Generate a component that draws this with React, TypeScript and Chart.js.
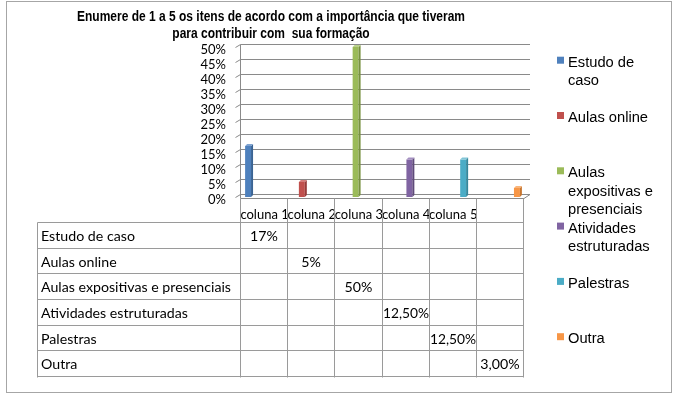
import React, { useEffect, useRef } from 'react';
import { Chart, registerables } from 'chart.js';

Chart.register(...registerables);

const W = 677;
const H = 398;

const titleLines = [
  'Enumere de 1 a 5 os itens de acordo com a importância que tiveram',
  'para contribuir com  sua formação',
];
const categories = ['coluna 1', 'coluna 2', 'coluna 3', 'coluna 4', 'coluna 5', ''];
const seriesNames = [
  'Estudo de caso',
  'Aulas online',
  'Aulas expositivas e presenciais',
  'Atividades estruturadas',
  'Palestras',
  'Outra',
];
const seriesValues = [0.17, 0.05, 0.5, 0.125, 0.125, 0.03];
const valueLabels = ['17%', '5%', '50%', '12,50%', '12,50%', '3,00%'];
const seriesColors = ['#4F81BD', '#C0504D', '#9BBB59', '#8064A2', '#4BACC6', '#F79646'];
const sideColors = ['#3A6494', '#963C3A', '#77913F', '#5F4A7A', '#35879C', '#C8762F'];
const topColors = ['#7FA3D1', '#D47C7A', '#B9D18A', '#A48FC1', '#82C6D8', '#F9B57A'];
const yMin = 0;
const yMax = 0.5;
const yStep = 0.05;

const FONT_TABLE = 'Lato, "Open Sans", sans-serif';
const FONT_ARIAL = '"Liberation Sans", Arial, sans-serif';

function line(ctx: CanvasRenderingContext2D, x1: number, y1: number, x2: number, y2: number) {
  ctx.beginPath();
  ctx.moveTo(x1, y1);
  ctx.lineTo(x2, y2);
  ctx.stroke();
}

function wrap(ctx: CanvasRenderingContext2D, text: string, maxW: number): string[] {
  const words = text.split(' ');
  const out: string[] = [];
  let cur = '';
  for (const w of words) {
    const test = cur ? cur + ' ' + w : w;
    if (cur && ctx.measureText(test).width > maxW) {
      out.push(cur);
      cur = w;
    } else {
      cur = test;
    }
  }
  if (cur) out.push(cur);
  return out;
}

const decorPlugin = {
  id: 'decor',
  beforeDraw(chart: any) {
    const ctx: CanvasRenderingContext2D = chart.ctx;
    ctx.save();
    ctx.fillStyle = '#ffffff';
    ctx.fillRect(0, 0, W, H);
    ctx.strokeStyle = '#a6a6a6';
    ctx.lineWidth = 1;
    ctx.strokeRect(6.5, 1.5, 665, 391);
    ctx.restore();
  },
  beforeDatasetsDraw(chart: any) {
    const ctx: CanvasRenderingContext2D = chart.ctx;
    const { chartArea } = chart;
    const y = chart.scales.y;
    const left = Math.round(chartArea.left) - 0.5;
    const right = chartArea.right + 6;
    ctx.save();
    ctx.strokeStyle = '#8a8a8a';
    ctx.lineWidth = 1;
    y.ticks.forEach((t: any) => {
      const py = Math.round(y.getPixelForValue(t.value) - 3) + 0.5;
      line(ctx, left, py, right, py);
      line(ctx, left - 5, py + 3, left, py);
    });
    const top = Math.round(y.getPixelForValue(yMax) - 3) + 0.5;
    const fy = Math.round(y.getPixelForValue(yMin) + 1) + 0.5;
    line(ctx, left, top, left, fy);
    line(ctx, left, fy, chartArea.right, fy);
    line(ctx, chartArea.right, fy, right, fy - 4);
    ctx.restore();
  },
  afterDatasetsDraw(chart: any) {
    const ctx: CanvasRenderingContext2D = chart.ctx;
    const d = 2;
    ctx.save();
    chart.data.datasets.forEach((ds: any, i: number) => {
      const meta = chart.getDatasetMeta(i);
      meta.data.forEach((el: any, j: number) => {
        if (ds.data[j] == null) return;
        const { x, y, base, width } = el.getProps(['x', 'y', 'base', 'width'], true);
        const l = x - width / 2;
        const r = x + width / 2;
        ctx.fillStyle = sideColors[i];
        ctx.beginPath();
        ctx.moveTo(r, y);
        ctx.lineTo(r + d, y - d);
        ctx.lineTo(r + d, base - d);
        ctx.lineTo(r, base);
        ctx.closePath();
        ctx.fill();
        ctx.fillStyle = topColors[i];
        ctx.beginPath();
        ctx.moveTo(l, y);
        ctx.lineTo(l + d, y - d);
        ctx.lineTo(r + d, y - d);
        ctx.lineTo(r, y);
        ctx.closePath();
        ctx.fill();
      });
    });
    ctx.restore();
  },
  afterDraw(chart: any) {
    const ctx: CanvasRenderingContext2D = chart.ctx;
    const { chartArea } = chart;
    const y = chart.scales.y;
    const n = categories.length;
    const cw = (chartArea.right - chartArea.left) / n;
    const xs: number[] = [];
    for (let k = 0; k <= n; k++) xs.push(Math.round(chartArea.left + k * cw) - 0.5);
    const fy = Math.round(y.getPixelForValue(yMin) + 1) + 0.5;
    const tableTop = fy + 24;
    const rowH = 25.67;
    const tableLeft = 37.5;
    const nRows = seriesNames.length;
    const tableBottom = Math.round(tableTop + nRows * rowH) + 0.5;

    ctx.save();
    // table grid
    ctx.strokeStyle = '#9a9a9a';
    ctx.lineWidth = 1;
    for (let r = 0; r <= nRows; r++) {
      const py = Math.round(tableTop + r * rowH - 0.5) + 0.5;
      line(ctx, tableLeft, py, xs[n], py);
    }
    line(ctx, tableLeft, tableTop, tableLeft, tableBottom);
    xs.forEach((x) => line(ctx, x, fy, x, tableBottom));

    // table text
    ctx.fillStyle = '#000';
    ctx.font = `14.2px ${FONT_TABLE}`;
    ctx.textBaseline = 'middle';
    seriesNames.forEach((name, r) => {
      const cy = tableTop + r * rowH + rowH / 2 + 1;
      ctx.textAlign = 'left';
      ctx.fillText(name, 41, cy);
      ctx.textAlign = 'center';
      const cx = (xs[r] + xs[r + 1]) / 2;
      ctx.fillText(valueLabels[r], cx, cy, cw - 1);
    });

    // title
    ctx.font = `bold 14px ${FONT_ARIAL}`;
    ctx.textAlign = 'center';
    ctx.textBaseline = 'alphabetic';
    const w1 = ctx.measureText(titleLines[0]).width;
    const sx = Math.min(1, 388 / w1);
    titleLines.forEach((t, k) => {
      const tw = ctx.measureText(t).width;
      ctx.fillText(t, 271, 21 + k * 16.5, tw * sx);
    });

    // legend
    ctx.font = `14.7px ${FONT_ARIAL}`;
    ctx.textAlign = 'left';
    seriesNames.forEach((name, i) => {
      const base = 66.7 + i * 55.3;
      ctx.fillStyle = seriesColors[i];
      ctx.fillRect(557, base - 10, 7, 7);
      ctx.fillStyle = '#000';
      wrap(ctx, name, 95).forEach((ln, k) => {
        ctx.fillText(ln, 568, base + k * 18.3);
      });
    });
    ctx.restore();
  },
};

export default function App() {
  const ref = useRef<HTMLCanvasElement>(null);
  useEffect(() => {
    const canvas = ref.current;
    if (!canvas) return;
    const chart = new Chart(canvas, {
      type: 'bar',
      data: {
        labels: categories,
        datasets: seriesNames.map((name, i) => ({
          label: name,
          data: categories.map((_, j) => (j === i ? seriesValues[i] : null)),
          backgroundColor: seriesColors[i],
          borderWidth: 0,
          categoryPercentage: 0.84,
          barPercentage: 0.9,
        })),
      },
      options: {
        responsive: false,
        animation: false,
        devicePixelRatio: 1,
        layout: { padding: { left: 0, top: 47, right: 153, bottom: 171 } },
        plugins: {
          legend: { display: false },
          title: { display: false },
          tooltip: { enabled: false },
        },
        scales: {
          x: {
            grid: { display: false, drawTicks: false },
            border: { display: false },
            ticks: {
              font: { family: 'Lato', size: 13 },
              color: '#000',
              padding: 10,
              maxRotation: 0,
              minRotation: 0,
              autoSkip: false,
            },
            afterFit: (s: any) => {
              s.height = 30;
            },
          },
          y: {
            min: yMin,
            max: yMax,
            grid: { display: false, drawTicks: false },
            border: { display: false },
            ticks: {
              stepSize: yStep,
              autoSkip: false,
              callback: (v: any) => Math.round(Number(v) * 100) + '%',
              font: { family: 'Lato', size: 13 },
              color: '#000',
              padding: 15,
              labelOffset: 3,
            },
            afterFit: (s: any) => {
              s.width = 241;
            },
          },
        },
      },
      plugins: [decorPlugin],
    });
    return () => chart.destroy();
  }, []);
  return (
    <div style={{ position: 'absolute', left: 0, top: 0, width: W, height: H, background: '#fff' }}>
      <canvas ref={ref} width={W} height={H} style={{ display: 'block', width: W, height: H }} />
    </div>
  );
}
